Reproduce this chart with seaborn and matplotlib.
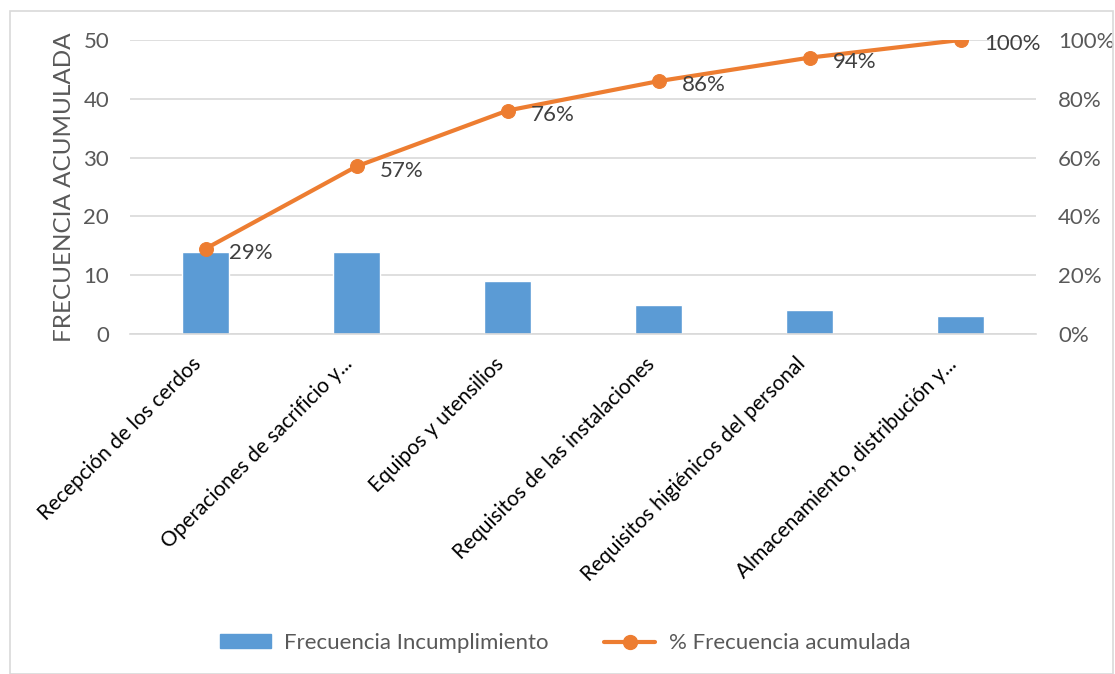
import matplotlib
matplotlib.use("Agg")
import matplotlib.pyplot as plt
import matplotlib.transforms as mtransforms
import seaborn as sns
import pandas as pd
from matplotlib.patches import Rectangle
from matplotlib.lines import Line2D
from matplotlib.patches import Patch

categories = ["Recepción de los cerdos", "Operaciones de sacrificio y...",
              "Equipos y utensilios", "Requisitos de las instalaciones",
              "Requisitos higiénicos del personal", "Almacenamiento, distribución y..."]
frecuencia = [14, 14, 9, 5, 4, 3]
acumulado_pct = [0.29, 0.57, 0.76, 0.86, 0.94, 1.00]
pct_labels = ["29%", "57%", "76%", "86%", "94%", "100%"]
left_ticks = [0, 10, 20, 30, 40, 50]
right_ticks = [0, 0.2, 0.4, 0.6, 0.8, 1.0]
right_tick_labels = ["0%", "20%", "40%", "60%", "80%", "100%"]

sns.set_theme(style="white")
plt.rcParams['font.family'] = ['Lato', 'DejaVu Sans']

BAR = "#5B9BD5"
LINE = "#ED7D31"
GRAY = "#595959"

fig = plt.figure(figsize=(11.15, 6.74), dpi=100)
ax = fig.add_axes([130/1115, 1 - 334/674, (1036-130)/1115, (334-40)/674])

df = pd.DataFrame({"cat": categories, "freq": frecuencia, "pct": acumulado_pct})
sns.barplot(data=df, x="cat", y="freq", color=BAR, width=0.31, ax=ax, saturation=1)
ax.set_ylim(0, 50)
ax.set_xlim(-0.5, len(categories) - 0.5)
ax.set_yticks(left_ticks)
ax.set_yticklabels([str(t) for t in left_ticks], fontsize=16, color=GRAY)
ax.yaxis.grid(True, color="#D9D9D9", linewidth=1.2)
ax.set_axisbelow(True)
for s in ["top", "right", "left"]:
    ax.spines[s].set_visible(False)
ax.spines["bottom"].set_color("#D9D9D9")
ax.spines["bottom"].set_linewidth(1.2)
ax.tick_params(axis="y", length=0, pad=15)
ax.tick_params(axis="x", length=0, pad=10)
ax.set_xlabel("")
ax.set_ylabel("FRECUENCIA ACUMULADA", fontsize=17.5, color=GRAY, labelpad=6)
ax.set_xticks(range(len(categories)))
ax.set_xticklabels(categories, rotation=45, ha="right", rotation_mode="anchor",
                   fontsize=15, color="black")
offset = mtransforms.ScaledTranslation(-14/100, -6/100, fig.dpi_scale_trans)
for lbl in ax.get_xticklabels():
    lbl.set_transform(lbl.get_transform() + offset)

ax2 = ax.twinx()
sns.lineplot(data=df, x=range(len(categories)), y="pct", ax=ax2, color=LINE,
             linewidth=3, marker="o", markersize=10, markeredgecolor=LINE)
ax2.set_ylim(0, 1.0)
ax2.set_yticks(right_ticks)
ax2.set_yticklabels(right_tick_labels, fontsize=16, color=GRAY)
ax2.tick_params(axis="y", length=0, pad=16)
ax2.set_ylabel("")
for s in ax2.spines.values():
    s.set_visible(False)
ax2.grid(False)

for i, (p, lab) in enumerate(zip(acumulado_pct, pct_labels)):
    ax2.annotate(lab, (i, p), xytext=(17, -3), textcoords="offset points",
                 ha="left", va="center", fontsize=16, color="#404040")

handles = [Patch(facecolor=BAR, edgecolor=BAR),
           Line2D([0], [0], color=LINE, linewidth=3, marker="o", markersize=10)]
fig.legend(handles, ["Frecuencia Incumplimiento", "% Frecuencia acumulada"],
           loc="center", bbox_to_anchor=(565/1115, 1 - 643/674), ncol=2,
           frameon=False, fontsize=16, labelcolor=GRAY, handlelength=2.3,
           handleheight=0.55, columnspacing=2.5, handletextpad=0.6)

fig.patches.append(Rectangle((10/1115, 0), 1 - 10/1115 - 0.002, 1 - 11/674,
                             transform=fig.transFigure, fill=False,
                             edgecolor="#D9D9D9", linewidth=1.2))

fig.savefig("out.png", dpi=100, facecolor="white")
